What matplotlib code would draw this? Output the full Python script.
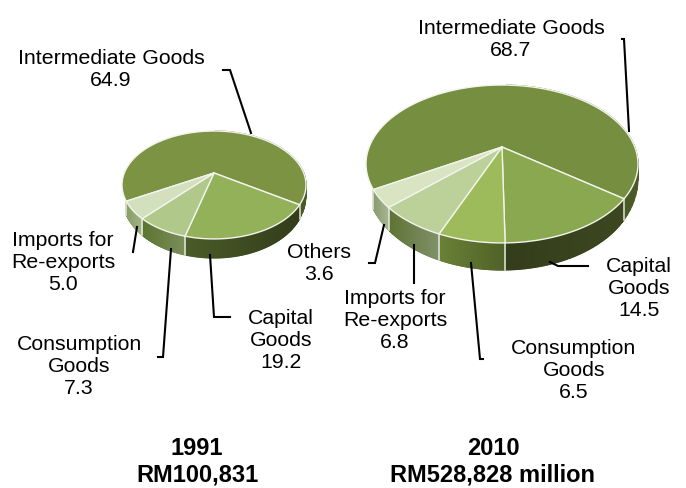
import numpy as np
import matplotlib
matplotlib.use("Agg")
import matplotlib.pyplot as plt
from matplotlib.collections import PolyCollection
from matplotlib.patches import Polygon
from matplotlib.colors import to_rgb

# values, order goes clockwise from the right hand side
names_1991 = ["Intermediate Goods", "Capital Goods", "Consumption Goods", "Imports for Re-exports"]
values_1991 = [64.9, 19.2, 7.3, 5.0]
names_2010 = ["Intermediate Goods", "Capital Goods", "Consumption Goods", "Imports for Re-exports", "Others"]
values_2010 = [68.7, 14.5, 6.5, 6.8, 3.6]

top_1991 = ["#7c9344", "#93b158", "#b0c88a", "#d3e0bd"]
top_2010 = ["#768e40", "#8aa850", "#9dbb5b", "#bcd09a", "#d8e4c2"]
# wall colours: (left end, right end)
wall_1991 = [("#55682c", "#4a5a26"), ("#4a5c28", "#333c1a"), ("#5c7430", "#7b8f5c"), ("#8a9e66", "#a3b488")]
wall_2010 = [("#55682c", "#4a5a26"), ("#343d1b", "#3c4720"), ("#6a8135", "#4f6128"), ("#5f7334", "#80926a"), ("#8a9c70", "#a8b797")]

plt.rcParams['font.family'] = ['Liberation Sans', 'DejaVu Sans']
FS = 15.3
FS_BOLD = 17.0

fig = plt.figure(figsize=(6.86, 4.88), dpi=100)
ax = fig.add_axes([0, 0, 1, 1])
ax.set_xlim(0, 686)
ax.set_ylim(488, 0)
ax.axis("off")


def rim(a, cx, cy, ax_, ay, p):
    # circle seen in perspective, the centre of the pie lands on (cx, cy)
    X, Y = np.cos(a), np.sin(a)
    w = 1 + p * Y
    return cx + ax_ * X / w, cy - ay * Y / w


def wall_depth(a, depth):
    # wall gets thinner towards the far left and right
    return depth * np.sqrt(np.clip(-np.sin(a), 0, 1))


def pie3d(values, tops, walls, cx, cy, ax_, ay, p, depth, start):
    vals = np.array(values, dtype=float)
    # slice 0 = Intermediate, the others follow clockwise from the start angle
    small = np.cumsum(vals[1:]) / vals.sum() * 2 * np.pi
    bounds = np.radians(start) - np.concatenate([[0], small])
    wedge_spans = [(bounds[-1], bounds[0] - 2 * np.pi)]
    for i in range(len(small)):
        wedge_spans.append((bounds[i], bounds[i + 1]))

    # walls first
    for i, (a0, a1) in enumerate(wedge_spans):
        t = np.linspace(a0, a1, 90)
        x, y = rim(t, cx, cy, ax_, ay, p)
        d = wall_depth(t, depth)
        lo, hi = x.min(), x.max()
        c0, c1 = np.array(to_rgb(walls[i][0])), np.array(to_rgb(walls[i][1]))
        polys, cols = [], []
        for k in range(len(t) - 1):
            # the big slice only shows its wall on the right
            if i == 0 and np.cos(t[k]) < 0:
                continue
            polys.append([(x[k], y[k]), (x[k + 1], y[k + 1]), (x[k + 1], y[k + 1] + d[k + 1]), (x[k], y[k] + d[k])])
            f = (x[k] - lo) / max(hi - lo, 1)
            cols.append(c0 + (c1 - c0) * f)
        ax.add_collection(PolyCollection(polys, facecolors=cols, edgecolors=cols, linewidths=0.9, zorder=2))
    for b in bounds:
        x, y = rim(b, cx, cy, ax_, ay, p)
        ax.plot([x, x], [y, y + wall_depth(b, depth)], color="#e4e8da", lw=1.1, zorder=3)

    # top surface
    for i, (a0, a1) in enumerate(wedge_spans):
        t = np.linspace(a0, a1, 200)
        x, y = rim(t, cx, cy, ax_, ay, p)
        pts = np.column_stack([np.r_[cx, x], np.r_[cy, y]])
        ax.add_patch(Polygon(pts, closed=True, facecolor=tops[i], edgecolor="#f2f4ec", lw=1.0, zorder=4, joinstyle="round"))


pie3d(values_1991, top_1991, wall_1991, 214, 173, 89.7, 51.3, 0.222, 19, -33)
pie3d(values_2010, top_2010, wall_2010, 502, 147, 132.8, 75.3, 0.215, 27, -36.8)

leaders = [
    [(223, 70), (230, 70), (251, 133)],
    [(133, 252), (137, 227)],
    [(158, 357), (163, 357), (171, 249)],
    [(230, 317), (214, 317), (210, 255)],
    [(622, 39), (624, 39), (629, 131)],
    [(369, 263), (375, 263), (384, 225)],
    [(414, 283), (414, 245)],
    [(483, 359), (480, 359), (471, 263)],
    [(588, 266), (558, 266), (550, 262)],
]
for pts in leaders:
    xs, ys = zip(*pts)
    ax.plot(xs, ys, color="black", lw=1.5, zorder=5, solid_joinstyle="miter")

labels = [
    (111, 69, "Intermediate Goods\n64.9"),
    (63, 262, "Imports for\nRe-exports\n5.0"),
    (79, 367, "Consumption\nGoods\n7.3"),
    (281, 341, "Capital\nGoods\n19.2"),
    (511, 39, "Intermediate Goods\n68.7"),
    (319, 263, "Others\n3.6"),
    (395, 320, "Imports for\nRe-exports\n6.8"),
    (574, 371, "Consumption\nGoods\n6.5"),
    (639, 289, "Capital\nGoods\n14.5"),
]
for x, y, s in labels:
    ax.text(x, y, s, ha="center", va="center", fontsize=FS, linespacing=1.2, color="black", zorder=6)

ax.text(197, 462, "1991\nRM100,831", ha="center", va="center", fontsize=FS_BOLD, fontweight="bold", linespacing=1.2)
ax.text(493, 462, "2010\nRM528,828 million", ha="center", va="center", fontsize=FS_BOLD, fontweight="bold", linespacing=1.2)

fig.savefig("out.png", dpi=100)
